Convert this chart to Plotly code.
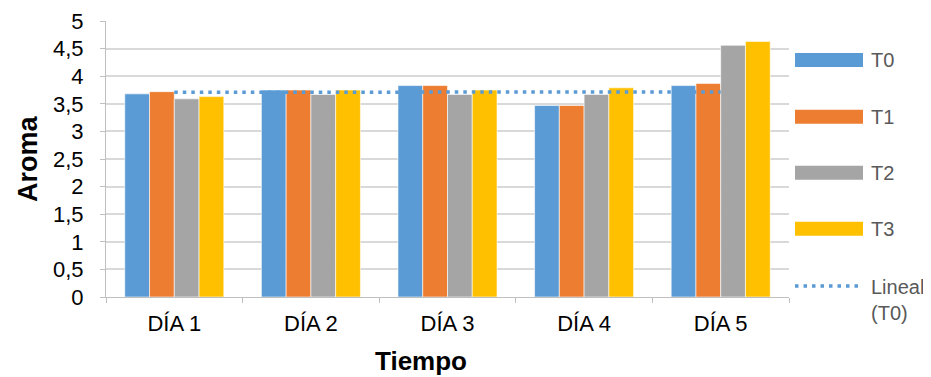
import numpy as np
import plotly.graph_objects as go

categories = ["DÍA 1", "DÍA 2", "DÍA 3", "DÍA 4", "DÍA 5"]
series_names = ["T0", "T1", "T2", "T3"]
t0 = [3.68, 3.75, 3.83, 3.47, 3.83]
t1 = [3.72, 3.75, 3.83, 3.47, 3.87]
t2 = [3.59, 3.67, 3.67, 3.67, 4.56]
t3 = [3.63, 3.75, 3.75, 3.79, 4.63]
colors = ["#5B9BD5", "#ED7D31", "#A5A5A5", "#FFC000"]
y_tickvals = [0, 0.5, 1, 1.5, 2, 2.5, 3, 3.5, 4, 4.5, 5]
y_ticktext = ["0", "0,5", "1", "1,5", "2", "2,5", "3", "3,5", "4", "4,5", "5"]

FONT = "Liberation Sans, Arial"
OFF = 8  # default page body margin
W, H = 931 - OFF, 377 - OFF
# plot area in screen pixels
SL, SR, ST, SB = 106, 789, 21, 297
L, R, T, B = SL - OFF, SR - OFF, ST - OFF, SB - OFF

fig = go.Figure()
for name, vals, c in zip(series_names, [t0, t1, t2, t3], colors):
    fig.add_trace(go.Bar(x=categories, y=vals, name=name, marker_color=c,
                         marker_line=dict(color="white", width=0.6), showlegend=False))

# linear trendline of T0
idx = np.arange(len(categories))
slope, intercept = np.polyfit(idx, t0, 1)
trend = slope * idx + intercept
fig.add_trace(go.Scatter(x=categories, y=trend, mode="lines", showlegend=False,
                         line=dict(color="#5B9BD5", width=3.5, dash="3.5px,5px")))

def px_x(p):  # screen px -> paper
    return (p - SL) / (SR - SL)

def px_y(p):
    return (SB - p) / (SB - ST)

shapes = []
annotations = []
leg_y = [60, 116.7, 172.7, 228.7]
for name, c, yy in zip(series_names, colors, leg_y):
    shapes.append(dict(type="rect", xref="paper", yref="paper",
                       x0=px_x(795), x1=px_x(863), y0=px_y(yy + 7), y1=px_y(yy - 7),
                       fillcolor=c, line=dict(width=0)))
    annotations.append(dict(text=name, xref="paper", yref="paper", x=px_x(869), y=px_y(yy),
                            xanchor="left", yanchor="middle", showarrow=False,
                            font=dict(family=FONT, size=20, color="#595959")))
shapes.append(dict(type="line", xref="paper", yref="paper",
                   x0=px_x(795), x1=px_x(860), y0=px_y(286), y1=px_y(286),
                   line=dict(color="#5B9BD5", width=3.5, dash="3.5px,5px")))
annotations.append(dict(text="Lineal<br>(T0)", xref="paper", yref="paper", x=px_x(869), y=px_y(300),
                        xanchor="left", yanchor="middle", showarrow=False, align="left",
                        font=dict(family=FONT, size=20, color="#595959")))
annotations.append(dict(text="<b>Aroma</b>", xref="paper", yref="paper", x=px_x(28), y=px_y(159),
                        xanchor="center", yanchor="middle", showarrow=False, textangle=-90,
                        font=dict(family=FONT, size=27, color="black")))
annotations.append(dict(text="<b>Tiempo</b>", xref="paper", yref="paper", x=px_x(421), y=px_y(361),
                        xanchor="center", yanchor="middle", showarrow=False,
                        font=dict(family=FONT, size=26, color="black")))

fig.update_layout(
    width=W, height=H,
    margin=dict(l=L, r=W - R, t=T, b=H - B, autoexpand=False),
    paper_bgcolor="white", plot_bgcolor="white",
    barmode="group", bargap=0.275, bargroupgap=0,
    shapes=shapes, annotations=annotations,
    font=dict(family=FONT, size=22, color="black"),
)
fig.update_xaxes(showgrid=False, showline=True, linecolor="#BFBFBF", linewidth=1,
                 ticks="outside", tickson="boundaries", ticklen=5, tickcolor="#BFBFBF",
                 ticklabelstandoff=7, tickfont=dict(size=22))
fig.update_yaxes(range=[0, 5], tickvals=y_tickvals, ticktext=y_ticktext,
                 showgrid=True, gridcolor="#D9D9D9", gridwidth=1.5,
                 showline=True, linecolor="#BFBFBF", linewidth=1,
                 ticks="outside", ticklen=5, tickcolor="#BFBFBF",
                 ticklabelstandoff=12, tickfont=dict(size=22), zeroline=False)

fig.write_html("out.html")
